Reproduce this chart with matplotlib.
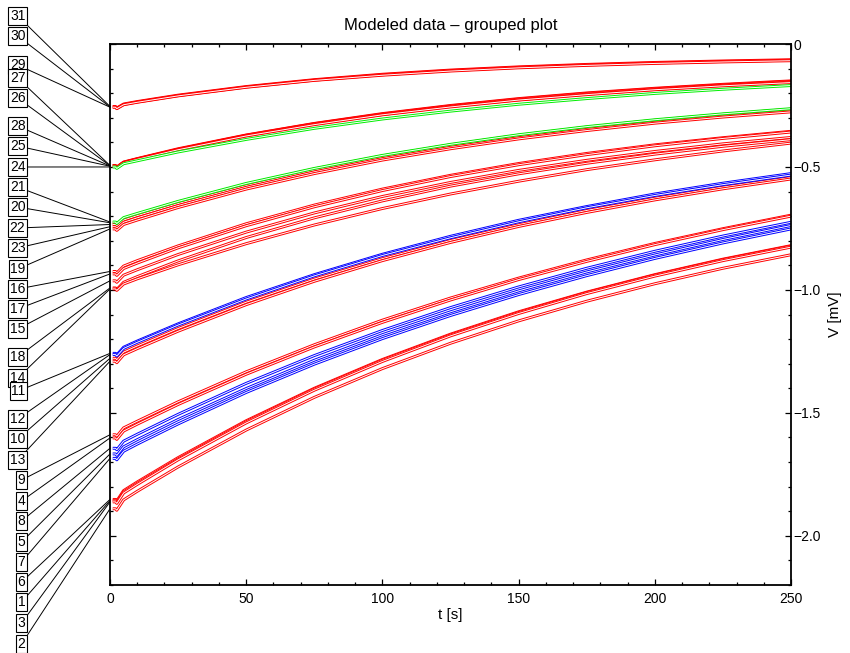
'''
groupedPlot.py

Modeled voltage traces, grouped by starting level, with numbered leaders.
'''

import matplotlib
matplotlib.use('Agg')
import matplotlib.pyplot as plt
import matplotlib.ticker as mtick
import matplotlib.patheffects as pe

plt.rcParams['font.family'] = ['Liberation Sans', 'DejaVu Sans']

# sample times [s], first value is the start of each trace
tSamples = [0, 5, 10, 25, 50, 75, 100, 125, 150, 175, 200, 225, 250]
startDip = 0.006

# group A  (start ~ -0.26 mV)
labelsA = [31, 30, 29]
colorsA = ['r', 'r', 'r']
valuesA = [
    [-0.254, -0.244, -0.234, -0.208, -0.173, -0.145, -0.123, -0.106, -0.093, -0.083, -0.075, -0.069, -0.064],
    [-0.256, -0.246, -0.236, -0.210, -0.175, -0.147, -0.125, -0.108, -0.095, -0.085, -0.077, -0.071, -0.066],
    [-0.257, -0.247, -0.237, -0.211, -0.176, -0.148, -0.127, -0.110, -0.097, -0.087, -0.079, -0.073, -0.068],
]

# group B  (start ~ -0.5 mV)
labelsB = [27, 26, 28, 25, 24]
colorsB = ['r', 'r', 'r', 'r', 'g']
valuesB = [
    [-0.494, -0.480, -0.466, -0.426, -0.370, -0.323, -0.283, -0.250, -0.222, -0.199, -0.180, -0.164, -0.150],
    [-0.495, -0.481, -0.467, -0.428, -0.371, -0.324, -0.285, -0.252, -0.224, -0.201, -0.182, -0.166, -0.152],
    [-0.496, -0.482, -0.468, -0.429, -0.373, -0.326, -0.287, -0.254, -0.227, -0.204, -0.185, -0.168, -0.155],
    [-0.497, -0.483, -0.469, -0.430, -0.374, -0.328, -0.288, -0.256, -0.228, -0.206, -0.186, -0.170, -0.157],
    [-0.500, -0.487, -0.475, -0.439, -0.388, -0.343, -0.305, -0.273, -0.245, -0.222, -0.201, -0.184, -0.169],
]

# group C  (start ~ -0.73 mV)
labelsC = [21, 20, 22, 23, 19]
colorsC = ['g', 'r', 'r', 'r', 'r']
valuesC = [
    [-0.724, -0.706, -0.689, -0.640, -0.567, -0.506, -0.453, -0.408, -0.369, -0.336, -0.308, -0.284, -0.263],
    [-0.727, -0.709, -0.692, -0.642, -0.570, -0.508, -0.455, -0.410, -0.371, -0.338, -0.310, -0.286, -0.265],
    [-0.734, -0.716, -0.698, -0.649, -0.576, -0.513, -0.460, -0.414, -0.375, -0.342, -0.313, -0.289, -0.268],
    [-0.743, -0.725, -0.707, -0.657, -0.583, -0.520, -0.466, -0.420, -0.381, -0.347, -0.318, -0.293, -0.272],
    [-0.752, -0.734, -0.716, -0.665, -0.590, -0.527, -0.472, -0.426, -0.386, -0.352, -0.322, -0.297, -0.276],
]

# group D  (start ~ -0.95 mV)
labelsD = [16, 17, 15, 18, 14]
colorsD = ['r', 'r', 'r', 'r', 'r']
valuesD = [
    [-0.925, -0.903, -0.881, -0.821, -0.731, -0.655, -0.590, -0.534, -0.486, -0.445, -0.410, -0.381, -0.355],
    [-0.935, -0.913, -0.891, -0.829, -0.739, -0.662, -0.596, -0.539, -0.491, -0.450, -0.414, -0.384, -0.358],
    [-0.963, -0.940, -0.918, -0.856, -0.765, -0.687, -0.620, -0.563, -0.514, -0.473, -0.437, -0.406, -0.380],
    [-0.992, -0.969, -0.946, -0.882, -0.787, -0.707, -0.638, -0.578, -0.528, -0.485, -0.448, -0.416, -0.389],
    [-0.996, -0.976, -0.955, -0.898, -0.812, -0.736, -0.669, -0.610, -0.558, -0.511, -0.471, -0.435, -0.403],
]

# group E  (start ~ -1.27 mV)
labelsE = [11, 12, 10, 13]
colorsE = ['b', 'b', 'r', 'r']
valuesE = [
    [-1.258, -1.233, -1.208, -1.138, -1.031, -0.938, -0.855, -0.782, -0.717, -0.661, -0.610, -0.566, -0.527],
    [-1.263, -1.238, -1.213, -1.143, -1.037, -0.943, -0.860, -0.788, -0.723, -0.666, -0.616, -0.572, -0.533],
    [-1.278, -1.253, -1.228, -1.157, -1.050, -0.956, -0.873, -0.799, -0.735, -0.677, -0.627, -0.582, -0.543],
    [-1.290, -1.264, -1.239, -1.168, -1.060, -0.965, -0.881, -0.807, -0.742, -0.685, -0.634, -0.589, -0.549],
]

# group F  (start ~ -1.63 mV)
labelsF = [9, 4, 8, 5, 7]
colorsF = ['r', 'r', 'b', 'b', 'b']
valuesF = [
    [-1.589, -1.561, -1.534, -1.455, -1.333, -1.223, -1.123, -1.033, -0.952, -0.878, -0.811, -0.751, -0.696],
    [-1.602, -1.574, -1.546, -1.466, -1.343, -1.232, -1.132, -1.041, -0.958, -0.884, -0.816, -0.755, -0.700],
    [-1.644, -1.615, -1.587, -1.506, -1.380, -1.267, -1.165, -1.072, -0.988, -0.912, -0.843, -0.781, -0.725],
    [-1.667, -1.638, -1.609, -1.527, -1.401, -1.286, -1.182, -1.089, -1.004, -0.927, -0.858, -0.795, -0.738],
    [-1.685, -1.656, -1.627, -1.545, -1.417, -1.302, -1.198, -1.104, -1.019, -0.942, -0.872, -0.809, -0.752],
]

# group G  (start ~ -1.86 mV)
labelsG = [6, 1, 3, 2]
colorsG = ['r', 'r', 'r', 'r']
valuesG = [
    [-1.852, -1.816, -1.781, -1.682, -1.532, -1.400, -1.283, -1.180, -1.089, -1.009, -0.938, -0.875, -0.820],
    [-1.857, -1.821, -1.786, -1.687, -1.536, -1.403, -1.286, -1.183, -1.092, -1.011, -0.940, -0.877, -0.822],
    [-1.862, -1.826, -1.791, -1.691, -1.541, -1.408, -1.291, -1.187, -1.096, -1.015, -0.944, -0.881, -0.826],
    [-1.890, -1.854, -1.819, -1.720, -1.570, -1.437, -1.320, -1.217, -1.126, -1.046, -0.975, -0.912, -0.857],
]

# label column, top to bottom, in image pixel rows
labelOrder = [31, 30, 29, 27, 26, 28, 25, 24, 21, 20, 22, 23, 19, 16, 17, 15,
              18, 14, 11, 12, 10, 13, 9, 4, 8, 5, 7, 6, 1, 3, 2]
labelRows = [16, 36, 65, 78, 98, 126, 146, 167, 187, 207, 228, 248, 269, 289,
             309, 329, 357, 378, 391, 419, 439, 460, 480, 501, 521, 542, 562,
             582, 602, 623, 644]

colorMap = {'r': '#ff0000', 'g': '#00ee00', 'b': '#0000ff'}


def fmtVolt(val, pos):
    if abs(val) < 1e-9:
        return '0'
    return '{:.1f}'.format(val).replace('-', '\u2212')


def createPlot():
    W, H = 850, 653
    fig = plt.figure(figsize=(W / 100, H / 100), dpi=100)
    ax = fig.add_axes([110 / W, 1 - 585 / H, 681 / W, 541 / H])

    groups = [(labelsA, colorsA, valuesA), (labelsB, colorsB, valuesB),
              (labelsC, colorsC, valuesC), (labelsD, colorsD, valuesD),
              (labelsE, colorsE, valuesE), (labelsF, colorsF, valuesF),
              (labelsG, colorsG, valuesG)]

    startValue = {}
    for labels, colors, values in groups:
        for lab, c, vals in zip(labels, colors, values):
            v0 = vals[0]
            startValue[lab] = v0
            # short flat start with a small dip, then the recovery
            t = [1.0, 2.0, 2.5] + tSamples[1:]
            v = [v0, v0, v0 - startDip] + vals[1:]
            ax.plot(t, v, color='white', lw=0.7, solid_capstyle='butt',
                    zorder=2 if c == 'r' else 2.5,
                    path_effects=[pe.Stroke(linewidth=2.1, foreground=colorMap[c]),
                                  pe.Normal()])

    # numbered boxes with leader lines to the start of each trace
    for lab, row in zip(labelOrder, labelRows):
        ax.annotate(str(lab), xy=(0, startValue[lab]), xycoords='data',
                    xytext=(25.5, H - row), textcoords='figure pixels',
                    ha='right', va='center', fontsize=10,
                    bbox=dict(boxstyle='square,pad=0.12', fc='white', ec='k', lw=0.8),
                    arrowprops=dict(arrowstyle='-', color='k', lw=0.7,
                                    shrinkA=0, shrinkB=0),
                    annotation_clip=False)

    ax.set_xlim(0, 250)
    ax.set_ylim(-2.2, 0)

    ax.xaxis.set_major_locator(mtick.MultipleLocator(50))
    ax.xaxis.set_minor_locator(mtick.MultipleLocator(10))
    ax.yaxis.set_major_locator(mtick.MultipleLocator(0.5))
    ax.yaxis.set_minor_locator(mtick.MultipleLocator(0.1))
    ax.yaxis.set_major_formatter(mtick.FuncFormatter(fmtVolt))

    ax.tick_params(which='both', direction='in', top=True, bottom=True,
                   left=True, right=True, labelleft=False, labelright=True,
                   width=0.9, labelsize=10)
    ax.tick_params(which='major', length=4.5)
    ax.tick_params(which='minor', length=2)
    ax.tick_params(axis='x', pad=5)
    ax.tick_params(axis='y', pad=2)

    for sp in ax.spines.values():
        sp.set_linewidth(1.3)

    ax.set_title('Modeled data \u2013 grouped plot', fontsize=12, pad=10)
    ax.set_xlabel('t [s]', fontsize=11, labelpad=1.5)
    ax.yaxis.set_label_position('right')
    ax.set_ylabel('V [mV]', fontsize=11, labelpad=5)

    fig.savefig('out.png', dpi=100)


if __name__ == "__main__":
    createPlot()
